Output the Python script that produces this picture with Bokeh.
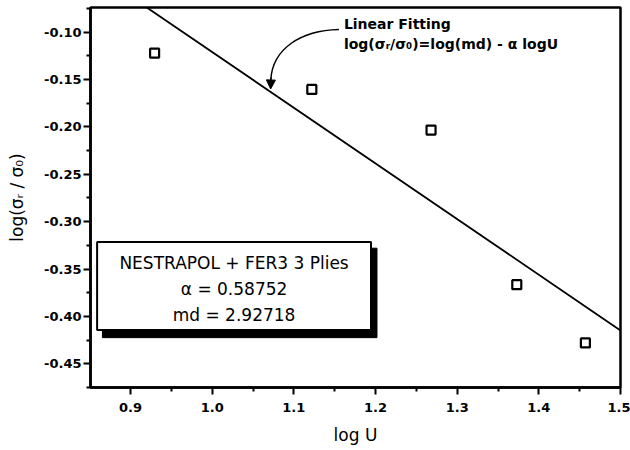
from bokeh.plotting import figure
from bokeh.models import FixedTicker, PrintfTickFormatter, Range1d, Arrow, NormalHead
from bokeh.core.properties import value
from bokeh.embed import file_html
from bokeh.resources import INLINE

# data
log_u = [0.9295, 1.122, 1.268, 1.373, 1.457]
log_sigma = [-0.1222, -0.1604, -0.2034, -0.3665, -0.428]
fit_x = [0.90, 1.50]
fit_y = [-0.0623, -0.4148]
x_ticks = [0.9, 1.0, 1.1, 1.2, 1.3, 1.4, 1.5]
y_ticks = [-0.45, -0.40, -0.35, -0.30, -0.25, -0.20, -0.15, -0.10]
box_lines = ["NESTRAPOL + FER3 3 Plies", "α = 0.58752", "md = 2.92718"]
note_lines = ["Linear Fitting", "log(σᵣ/σ₀)=log(md) - α logU"]

FONT = "DejaVu Sans"

p = figure(width=630, height=450, output_backend="svg", toolbar_location=None,
           x_range=Range1d(0.851, 1.5), y_range=Range1d(-0.475, -0.074),
           min_border_left=90, min_border_right=10, min_border_top=7, min_border_bottom=63)
p.grid.visible = False
p.background_fill_color = "white"
p.border_fill_color = "white"
p.outline_line_color = "black"
p.outline_line_width = 2.5

for ax, ticks, fmt in ((p.xaxis[0], x_ticks, "%.1f"), (p.yaxis[0], y_ticks, "%.2f")):
    ax.ticker = FixedTicker(ticks=ticks,
                            minor_ticks=[t + 0.5 * (ticks[1] - ticks[0]) for t in ticks] + [ticks[0] - 0.5 * (ticks[1] - ticks[0])])
    ax.formatter = PrintfTickFormatter(format=fmt)
    ax.axis_line_width = 2.5
    ax.axis_line_color = "black"
    ax.major_tick_line_width = 2
    ax.minor_tick_line_width = 2
    ax.major_tick_in = 0
    ax.minor_tick_in = 0
    ax.major_tick_out = 7
    ax.minor_tick_out = 4
    ax.major_label_text_font = FONT
    ax.major_label_text_font_size = "13px"
    ax.major_label_text_font_style = "bold"
    ax.major_label_text_color = "black"
    ax.axis_label_text_font = FONT
    ax.axis_label_text_font_size = "17px"
    ax.axis_label_text_font_style = "normal"
    ax.axis_label_text_color = "black"

p.xaxis.axis_label = "log U"
p.xaxis.major_label_standoff = 8
p.xaxis.axis_label_standoff = 10
p.yaxis.axis_label = "log(σᵣ / σ₀)"
p.yaxis.major_label_standoff = 2
p.yaxis.axis_label_standoff = 14

# fit line
p.line(fit_x, fit_y, line_color="black", line_width=1.8)

# data points
p.scatter(log_u, log_sigma, marker="square", size=9, fill_color="white",
          line_color="black", line_width=2.2)

# annotation curve + arrow
p.bezier(x0=[1.1552], y0=[-0.0972], x1=[1.0718], y1=[-0.1500],
         cx0=[1.1086], cy0=[-0.0982], cx1=[1.0742], cy1=[-0.1173],
         line_color="black", line_width=1.5)
p.add_layout(Arrow(end=NormalHead(size=9, fill_color="black", line_color="black"),
                   x_start=1.0720, y_start=-0.1480, x_end=1.0716, y_end=-0.1600,
                   line_color="black", line_width=1.5))
p.text(x=[1.1613, 1.1613], y=[-0.0918, -0.1130], text=note_lines,
       text_font=value(FONT), text_font_size="14px", text_font_style="bold",
       text_baseline="middle", text_align="left", text_color="black")

# legend-like box with shadow
p.quad(left=[0.8656], right=[1.2018], top=[-0.3280], bottom=[-0.4224],
       fill_color="black", line_color="black")
p.quad(left=[0.8591], right=[1.1945], top=[-0.3214], bottom=[-0.4142],
       fill_color="white", line_color="black", line_width=2)
p.text(x=[1.0268] * 3, y=[-0.3436, -0.3715, -0.3980], text=box_lines,
       text_font=value(FONT), text_font_size="17px", text_baseline="middle",
       text_align="center", text_color="black")

open("out.html", "w").write(file_html(p, INLINE))
